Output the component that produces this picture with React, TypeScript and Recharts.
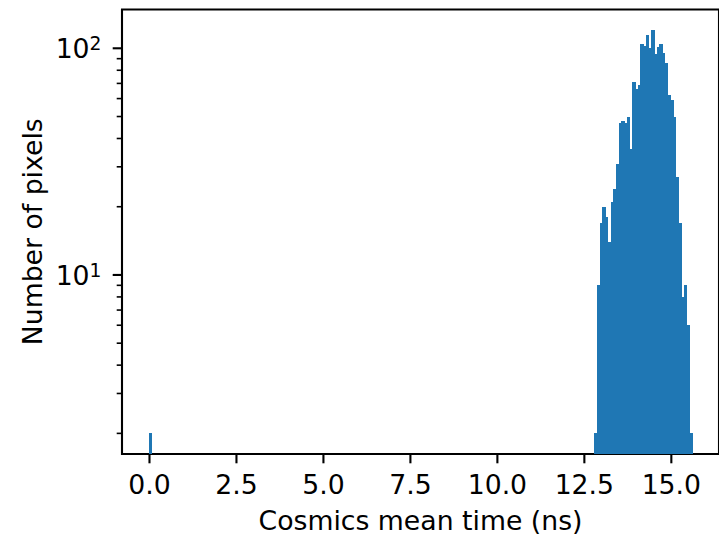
import React from 'react';
import { ComposedChart, Bar, XAxis, YAxis, ReferenceArea, Label } from 'recharts';

// ---- data (histogram of cosmics mean time, bin width 0.078 ns) ----
const binCenters = [
  0.039,
  12.831, 12.909, 12.987, 13.065, 13.143, 13.221, 13.299, 13.377, 13.455,
  13.533, 13.611, 13.689, 13.767, 13.845, 13.923, 14.001, 14.079, 14.157,
  14.235, 14.313, 14.391, 14.469, 14.547, 14.625, 14.703, 14.781, 14.859,
  14.937, 15.015, 15.093, 15.171, 15.249, 15.327, 15.405, 15.483, 15.561,
];
const pixelCounts = [
  2,
  2, 9, 17, 20, 18, 14, 21, 24, 31,
  47, 48, 47, 50, 36, 71, 66, 69, 104,
  102, 114, 100, 120, 94, 101, 104, 95, 86,
  62, 59, 50, 27, 17, 8, 9, 6, 2,
];
const BIN_WIDTH = 0.078;

const xTicks = [0, 2.5, 5, 7.5, 10, 12.5, 15];
const xTickLabels = ['0.0', '2.5', '5.0', '7.5', '10.0', '12.5', '15.0'];
const yMajorTicks = [10, 100];
const yMajorExponents = ['1', '2'];
const yMinorTicks = [2, 3, 4, 5, 6, 7, 8, 9, 20, 30, 40, 50, 60, 70, 80, 90];

const X_DOMAIN: [number, number] = [-0.79, 16.37];
const Y_DOMAIN: [number, number] = [1.622, 148.3];

// ---- layout ----
const W = 719;
const H = 536;
const MARGIN = { top: 9.5, right: 0, bottom: 0, left: 0 };
const Y_AXIS_W = 122;
const X_AXIS_H = 82;
const PLOT_W = W - MARGIN.left - MARGIN.right - Y_AXIS_W;
const BAR_PX = (BIN_WIDTH / (X_DOMAIN[1] - X_DOMAIN[0])) * PLOT_W * 0.999;
const SEAM_OVERLAP = 0.6;

const FONT = '"DejaVu Sans", sans-serif';
const FS = 26.7;
const FS_SUP = 18.7;
const BAR_COLOR = '#1f77b4';

const data = binCenters.map((x, i) => ({ x, count: pixelCounts[i] }));

const XTick = (props: any) => {
  const { x, y, payload } = props;
  const idx = xTicks.indexOf(payload.value);
  return (
    <g>
      <line x1={x} x2={x} y1={y} y2={y + 9.3} stroke="#000" strokeWidth={2.1} />
      <text x={x} y={y + 40} textAnchor="middle" fontFamily={FONT} fontSize={FS} fill="#000">
        {xTickLabels[idx]}
      </text>
    </g>
  );
};

const YTick = (props: any) => {
  const { x, y, payload } = props;
  const v = payload.value;
  const mi = yMajorTicks.indexOf(v);
  const major = mi >= 0;
  return (
    <g>
      <line
        x1={x}
        x2={x - (major ? 9.3 : 5.3)}
        y1={y}
        y2={y}
        stroke="#000"
        strokeWidth={major ? 2.1 : 1.6}
      />
      {major && (
        <text x={x - 20.5} y={y + 10} textAnchor="end" fontFamily={FONT} fontSize={FS} fill="#000">
          10
          <tspan dy={-8.3} fontSize={FS_SUP}>
            {yMajorExponents[mi]}
          </tspan>
        </text>
      )}
    </g>
  );
};

const HistBar = (props: any) => {
  const { x, y, width, height } = props;
  if (!(height > 0)) return null;
  return (
    <rect
      x={x - SEAM_OVERLAP / 2}
      y={y}
      width={width + SEAM_OVERLAP}
      height={height}
      fill={BAR_COLOR}
      shapeRendering="crispEdges"
    />
  );
};

export default function App() {
  return (
    <div style={{ position: 'absolute', left: 0, top: 0, width: W, height: H, background: '#fff' }}>
      <ComposedChart width={W} height={H} data={data} margin={MARGIN}>
        <XAxis
          dataKey="x"
          type="number"
          domain={X_DOMAIN}
          allowDataOverflow
          ticks={xTicks}
          interval={0}
          height={X_AXIS_H}
          tickSize={0}
          tickMargin={0}
          tickLine={false}
          axisLine={false}
          tick={<XTick />}
        >
          <Label
            content={(p: any) => {
              const vb = p.viewBox;
              return (
                <text
                  x={vb.x + vb.width / 2}
                  y={vb.y + 76}
                  textAnchor="middle"
                  fontFamily={FONT}
                  fontSize={FS}
                  fill="#000"
                >
                  Cosmics mean time (ns)
                </text>
              );
            }}
          />
        </XAxis>
        <YAxis
          type="number"
          scale="log"
          domain={Y_DOMAIN}
          allowDataOverflow
          ticks={[...yMinorTicks, ...yMajorTicks].sort((a, b) => a - b)}
          interval={0}
          width={Y_AXIS_W}
          tickSize={0}
          tickMargin={0}
          tickLine={false}
          axisLine={false}
          tick={<YTick />}
        >
          <Label
            content={(p: any) => {
              const vb = p.viewBox;
              const cx = vb.x + 41.7;
              const cy = vb.y + vb.height / 2;
              return (
                <text
                  x={cx}
                  y={cy}
                  transform={`rotate(-90, ${cx}, ${cy})`}
                  textAnchor="middle"
                  fontFamily={FONT}
                  fontSize={FS}
                  fill="#000"
                >
                  Number of pixels
                </text>
              );
            }}
          />
        </YAxis>
        <Bar
          dataKey="count"
          fill={BAR_COLOR}
          barSize={BAR_PX}
          shape={<HistBar />}
          isAnimationActive={false}
        />
        <ReferenceArea
          x1={X_DOMAIN[0]}
          x2={X_DOMAIN[1]}
          y1={Y_DOMAIN[0]}
          y2={Y_DOMAIN[1]}
          ifOverflow="visible"
          fill="none"
          fillOpacity={0}
          stroke="#000"
          strokeWidth={2.1}
        />
      </ComposedChart>
    </div>
  );
}
